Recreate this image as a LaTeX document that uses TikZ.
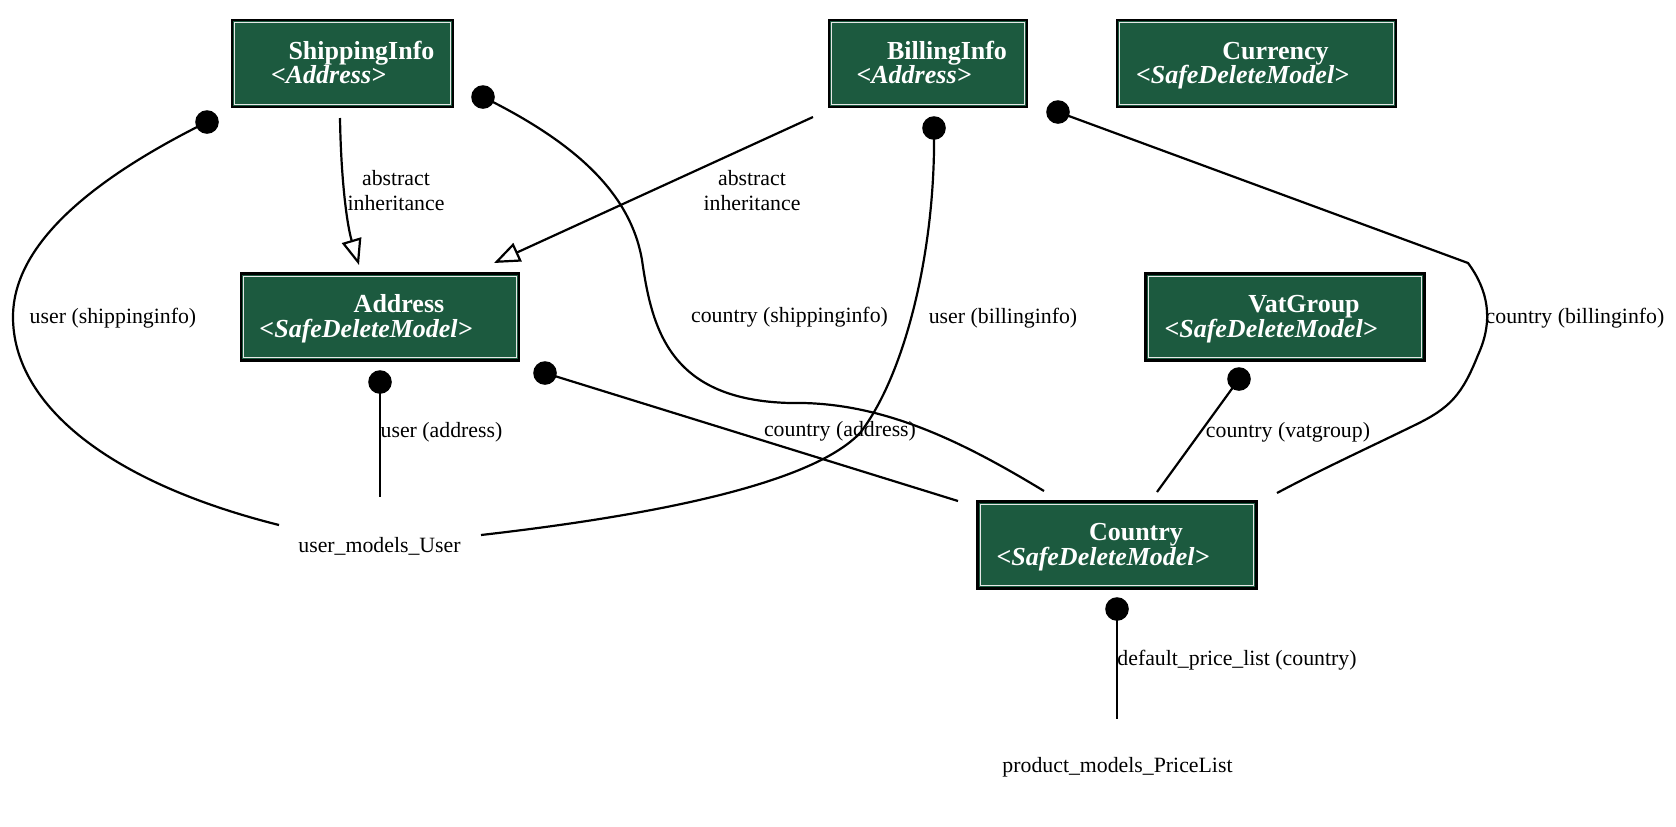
\documentclass[tikz,border=0pt]{standalone}
\usepackage{fontspec}
\setmainfont{Liberation Serif}
\usetikzlibrary{arrows.meta,calc}
\definecolor{modelgreen}{HTML}{1C5A3F}
\tikzset{
  model/.style={draw=black, line width=1.3pt, fill=modelgreen, minimum height=43.5pt, inner sep=0pt, outer sep=0pt},
  innerline/.style={draw=white!82!gray, line width=0.55pt},
  mtitle/.style={text=white, font=\fontsize{13}{15}\selectfont\bfseries, inner sep=0pt, anchor=base},
  msub/.style={text=white, font=\fontsize{13}{15}\selectfont\bfseries\itshape, inner sep=0pt, anchor=base},
  edge/.style={line width=1.1pt, black},
  inherit/.style={edge, -{Triangle[open, length=13pt, width=10pt, line width=1.1pt]}},
  lbl/.style={font=\fontsize{10.9}{12.5}\selectfont, inner sep=0pt, align=center},
  plain/.style={font=\fontsize{10.9}{12.5}\selectfont, inner sep=0pt},
  tdot/.style={circle, fill=black, minimum size=11.8pt, inner sep=0pt}
}
\newcommand\modelbox[6]{%
  \node[model, minimum width=#4] (#1) at (#2,#3) {};
  \draw[innerline] ([shift={(1.45pt,-1.45pt)}]#1.north west) rectangle ([shift={(-1.45pt,1.45pt)}]#1.south east);
  \node[mtitle] (#1-t) at ([xshift=9.5pt,yshift=2.25pt]#1.center) {#5};
  \node[msub] (#1-s) at ([xshift=-7pt,yshift=-10pt]#1.center) {#6};
}
\begin{document}
\begin{tikzpicture}[x=0.5pt, y=-0.5pt]
\useasboundingbox[fill=white] (0,0) rectangle (1676,826);
% model boxes
\modelbox{ship}{342.5}{63.5}{110.5pt}{ShippingInfo}{<Address>}
\modelbox{bill}{928}{63.5}{99pt}{BillingInfo}{<Address>}
\modelbox{cur}{1256.5}{63.5}{139.5pt}{Currency}{<SafeDeleteModel>}
\modelbox{addr}{380}{317}{139pt}{Address}{<SafeDeleteModel>}
\modelbox{vat}{1285}{317}{139.5pt}{VatGroup}{<SafeDeleteModel>}
\modelbox{ctry}{1117}{545}{139.5pt}{Country}{<SafeDeleteModel>}
% plain nodes
\node[plain] (user) at (379.5,546) {user\_models\_User};
\node[plain] (price) at (1117.5,767) {product\_models\_PriceList};
% tail points (dots) and head points
\coordinate (dShipUser) at (207,122);
\coordinate (dShipCtry) at (483,97);
\coordinate (dBillUser) at (934,128);
\coordinate (dBillCtry) at (1058,112);
\coordinate (dAddrUser) at (380,382);
\coordinate (dAddrCtry) at (545,373);
\coordinate (dVatCtry) at (1239,379);
\coordinate (dCtryPrice) at (1117,609);
\coordinate (iShipS) at (340,118);
\coordinate (iShipE) at (359,265);
\coordinate (iBillS) at (813,117);
\coordinate (iBillE) at (494,263);
\coordinate (uA) at (279,525);
\coordinate (uB) at (380,497);
\coordinate (uC) at (481,535);
\coordinate (cA) at (958,501);
\coordinate (cB) at (1044,491);
\coordinate (cC) at (1157,492);
\coordinate (cD) at (1277,493);
\coordinate (bend) at (1468,263);
\coordinate (pA) at (1117,719);
% inheritance
\draw[inherit] (iShipS) .. controls (341,180) and (347,225) .. (iShipE);
\draw[inherit] (iBillS) -- (iBillE);
% relations
\draw[edge] (dShipUser) .. controls (80,185) and (13,250) .. (13,317) .. controls (13,400) and (100,480) .. (uA);
\draw[edge] (dShipCtry) .. controls (570,140) and (630,190) .. (642,260) .. controls (652,330) and (670,400) .. (790,403) .. controls (880,401) and (960,440) .. (cB);
\draw[edge] (dBillUser) .. controls (936,250) and (905,375) .. (860,433) .. controls (820,475) and (700,510) .. (uC);
\draw[edge] (dBillCtry) -- (bend) .. controls (1488,290) and (1494,320) .. (1478,355) .. controls (1462,395) and (1450,408) .. (1415,425) .. controls (1370,447) and (1320,470) .. (cD);
\draw[edge] (dAddrUser) -- (uB);
\draw[edge] (dAddrCtry) -- (cA);
\draw[edge] (dVatCtry) -- (cC);
\draw[edge] (dCtryPrice) -- (pA);
% dots
\foreach \d in {dShipUser,dShipCtry,dBillUser,dBillCtry,dAddrUser,dAddrCtry,dVatCtry,dCtryPrice}
  \node[tdot] at (\d) {};
% labels
\node[lbl] (l1) at (396,190.5) {abstract\\inheritance};
\node[lbl] (l2) at (752,190.5) {abstract\\inheritance};
\node[lbl] (l3) at (113,318) {user (shippinginfo)};
\node[lbl] (l4) at (789.5,317) {country (shippinginfo)};
\node[lbl] (l5) at (1003,318) {user (billinginfo)};
\node[lbl] (l6) at (1575,318) {country (billinginfo)};
\node[lbl] (l7) at (441.5,432) {user (address)};
\node[lbl] (l8) at (840,431) {country (address)};
\node[lbl] (l9) at (1288,432) {country (vatgroup)};
\node[lbl] (l10) at (1237,660) {default\_price\_list (country)};
\end{tikzpicture}
\end{document}
